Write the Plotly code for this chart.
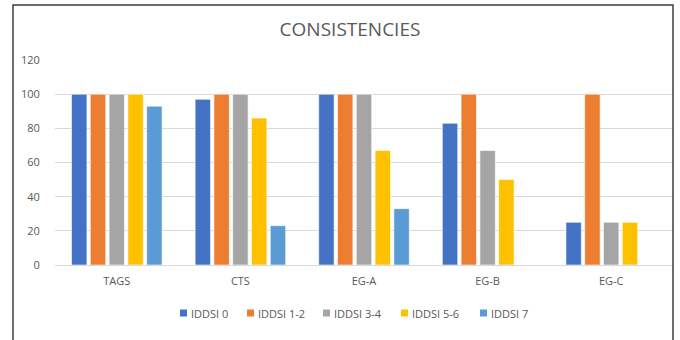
import plotly.graph_objects as go

categories = ["TAGS", "CTS", "EG-A", "EG-B", "EG-C"]
series_names = ["IDDSI 0", "IDDSI 1-2", "IDDSI 3-4", "IDDSI 5-6", "IDDSI 7"]
iddsi_0 = [100, 97, 100, 83, 25]
iddsi_1_2 = [100, 100, 100, 100, 100]
iddsi_3_4 = [100, 100, 100, 67, 25]
iddsi_5_6 = [100, 86, 67, 50, 25]
iddsi_7 = [93, 23, 33, 0, 0]
y_ticks = [0, 20, 40, 60, 80, 100, 120]

colors = ["#4472C4", "#ED7D31", "#A5A5A5", "#FFC000", "#5B9BD5"]
series_values = [iddsi_0, iddsi_1_2, iddsi_3_4, iddsi_5_6, iddsi_7]

W, H = 680, 340
ML, MR, MT, MB = 55, 7, 60, 75
plot_w = W - ML - MR
plot_h = H - MT - MB


def px_to_paper_x(px):
    return (px - ML) / plot_w


def px_to_paper_y(py):
    return (H - MB - py) / plot_h


fig = go.Figure()
for name, vals, col in zip(series_names, series_values, colors):
    fig.add_trace(go.Bar(
        x=categories, y=vals, name=name, showlegend=False,
        marker=dict(color=col, line=dict(color="rgba(255,255,255,0.6)", width=1)),
    ))

# frame around the chart (left, top, right edges)
x0, x1 = px_to_paper_x(13), px_to_paper_x(673)
y_top, y_bot = px_to_paper_y(5), px_to_paper_y(345)
fig.add_shape(type="path", xref="paper", yref="paper",
              path=f"M {x0} {y_bot} L {x0} {y_top} L {x1} {y_top} L {x1} {y_bot}",
              line=dict(color="#3F3F3F", width=1.5), layer="above")

# compact legend row: small square swatch followed by the series name
legend_px = [180, 247, 323, 401, 480]
legend_y = 313
sq = 7
for name, col, lx in zip(series_names, colors, legend_px):
    fig.add_shape(type="rect", xref="paper", yref="paper",
                  x0=px_to_paper_x(lx), x1=px_to_paper_x(lx + sq),
                  y0=px_to_paper_y(legend_y + sq / 2), y1=px_to_paper_y(legend_y - sq / 2),
                  fillcolor=col, line=dict(width=0))
    fig.add_annotation(xref="paper", yref="paper",
                       x=px_to_paper_x(lx + sq + 2), y=px_to_paper_y(legend_y),
                       xanchor="left", yanchor="middle", showarrow=False,
                       text=name, font=dict(size=11, color="#595959"))

font_fam = "Open Sans, sans-serif"
fig.update_layout(
    width=W, height=H,
    margin=dict(l=ML, r=MR, t=MT, b=MB),
    paper_bgcolor="white", plot_bgcolor="white",
    barmode="group", bargap=0.24, bargroupgap=0.18,
    title=dict(text="CONSISTENCIES", x=350 / W, xanchor="center",
               y=1 - 29 / H, yanchor="middle",
               font=dict(family=font_fam, size=19, color="#595959")),
    font=dict(family=font_fam, size=11, color="#595959"),
    xaxis=dict(showgrid=False, showline=True, linecolor="#D9D9D9", linewidth=1,
               ticks="outside", ticklen=6, tickcolor="rgba(0,0,0,0)",
               tickfont=dict(size=11, color="#595959")),
    yaxis=dict(range=[0, 120], tickvals=y_ticks, showgrid=True, gridcolor="#D9D9D9",
               gridwidth=1, zeroline=False, showline=False,
               ticks="outside", ticklen=12, tickcolor="rgba(0,0,0,0)",
               tickfont=dict(size=11, color="#595959")),
    showlegend=False,
)

fig.write_html("out.html")
